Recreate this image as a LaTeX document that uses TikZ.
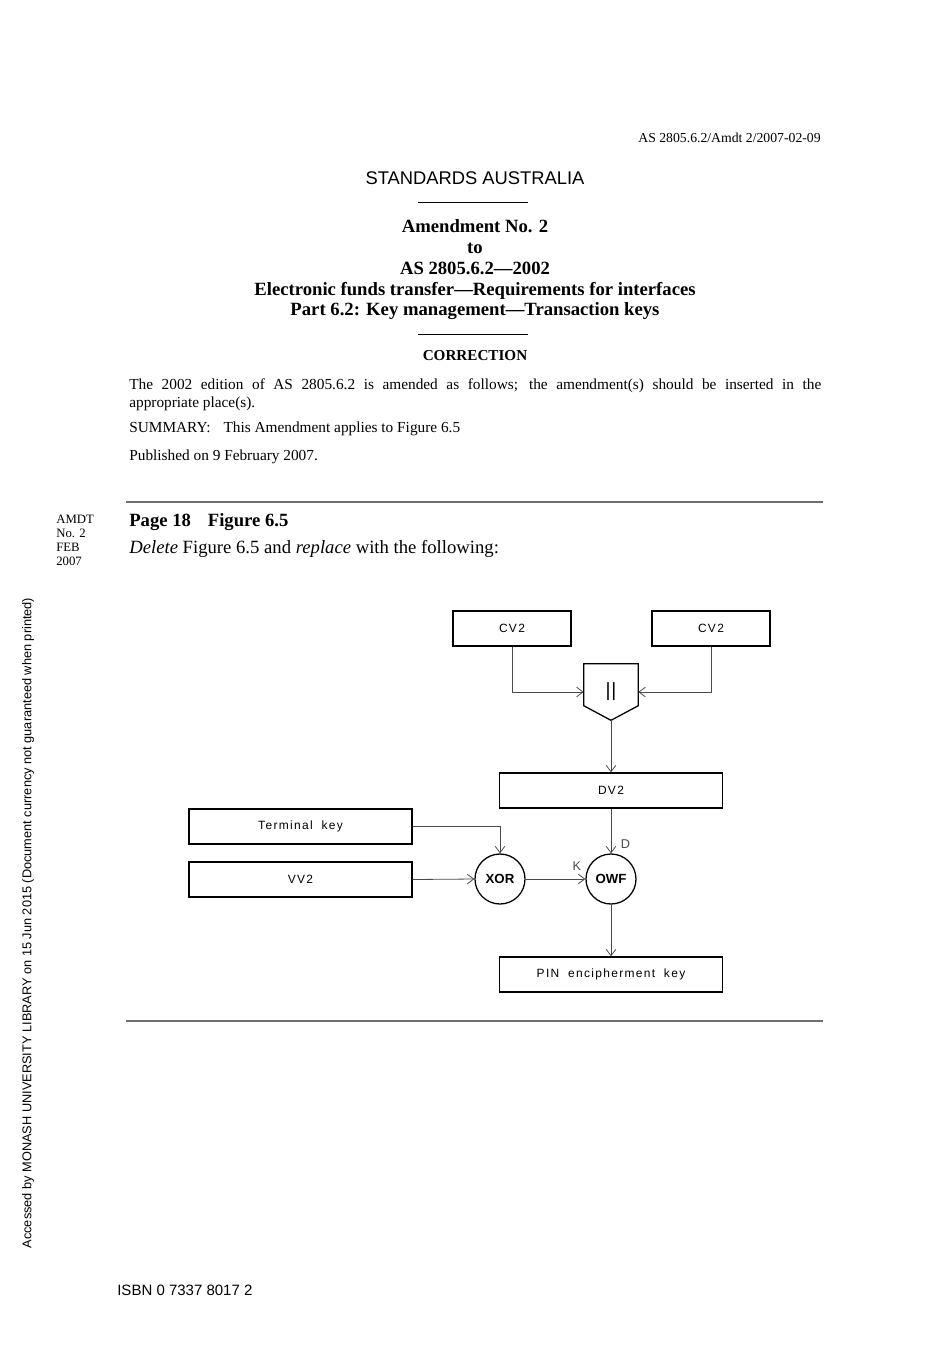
\documentclass[tikz,border=0pt]{standalone}
\usepackage{fontspec}
\setmainfont{Liberation Serif}
\setsansfont{Liberation Sans}
\newfontfamily\diagfont[LetterSpace=11, WordSpace=1.9]{Liberation Sans}
\usetikzlibrary{positioning, arrows.meta, calc}
\definecolor{ruleGrey}{HTML}{6E6E6E}
\definecolor{lineGrey}{HTML}{4A4A4A}
\def\pxu{0.6264pt}

\begin{document}
\begin{tikzpicture}[
  x=0.6264pt, y=-0.6264pt,
  keybox/.style={draw=black, line width=0.8pt, minimum height=35*\pxu,
                 inner sep=0pt, font=\diagfont\fontsize{7.5}{9}\selectfont},
  narrowbox/.style={keybox, minimum width=118*\pxu},
  widebox/.style={keybox, minimum width=223*\pxu},
  opnode/.style={draw=black, line width=0.8pt, circle, minimum size=50*\pxu,
                 inner sep=0pt, font=\sffamily\bfseries\fontsize{8.3}{10}\selectfont},
  conn/.style={draw=lineGrey, line width=0.5pt,
               -{Straight Barb[length=4pt, width=6pt, line width=0.5pt]}},
  lbl/.style={font=\sffamily\fontsize{8}{10}\selectfont, text=lineGrey, inner sep=0pt},
  title/.style={font=\bfseries\fontsize{11.7}{13}\selectfont, inner sep=0pt}
]
\useasboundingbox (0,0) rectangle (950,1345);

\node[anchor=base east, font=\fontsize{8.6}{10}\selectfont, inner sep=0pt] (code) at (821,142) {AS 2805.6.2/Amdt 2/2007-02-09};
\node[anchor=base, font=\sffamily\fontsize{11.5}{13}\selectfont, inner sep=0pt] (org) at (475,184) {STANDARDS AUSTRALIA};
\draw[line width=0.6pt] (418,202) -- (528,202);
\node[title, anchor=base] (amd) at (475,232) {Amendment No. 2};
\node[title, anchor=base] (to) at (475,253) {to};
\node[title, anchor=base] (std) at (475,274) {AS 2805.6.2---2002};
\node[title, anchor=base] (ttl) at (475,295) {Electronic funds transfer---Requirements for interfaces};
\node[title, anchor=base] (part) at (475,315) {Part 6.2: Key management---Transaction keys};
\draw[line width=0.6pt] (418,334) -- (528,334);
\node[anchor=base, font=\bfseries\fontsize{9.5}{11}\selectfont, inner sep=0pt] (corr) at (475,360) {CORRECTION};
\node[anchor=north west, inner sep=0pt, text width=692*\pxu, align=justify,
      font=\fontsize{9.6}{11.3}\selectfont] (intro) at (129,378)
  {The 2002 edition of AS 2805.6.2 is amended as follows; the amendment(s) should be inserted in the\linebreak appropriate place(s).};
\node[anchor=base west, font=\fontsize{9.6}{11}\selectfont, inner sep=0pt] (summ) at (129,432)
  {SUMMARY:\hspace{0.85em}This Amendment applies to Figure 6.5};
\node[anchor=base west, font=\fontsize{9.6}{11}\selectfont, inner sep=0pt] (pub) at (129,460)
  {Published on 9 February 2007.};
\draw[ruleGrey, line width=1.8pt] (126,502) -- (823,502);
\node[anchor=north west, align=left, inner sep=0pt,
      font=\fontsize{8}{8.8}\selectfont] (amdt) at (56,515) {AMDT\\No. 2\\FEB\\2007};
\node[anchor=base west, font=\bfseries\fontsize{11.7}{13}\selectfont, inner sep=0pt] (pg) at (129,526)
  {Page 18\hspace{0.9em}Figure 6.5};
\node[anchor=base west, font=\fontsize{11.7}{13}\selectfont, inner sep=0pt] (del) at (129,553)
  {\textit{Delete} Figure 6.5 and \textit{replace} with the following:};

\node[narrowbox] (cvl) at (512,628.5) {CV2};
\node[narrowbox] (cvr) at (711,628.5) {CV2};
\node[minimum width=54*\pxu, minimum height=56*\pxu, inner sep=0pt,
      font=\sffamily\fontsize{12}{14}\selectfont] (cat) at (611,692) {|\kern0.5pt|};
\draw[line width=0.8pt] (cat.north west) -- (cat.north east)
  -- ($(cat.north east)+(0,42)$) -- (cat.south) -- ($(cat.north west)+(0,42)$) -- cycle;
\node[widebox] (dv) at (611,790.5) {DV2};
\node[widebox] (term) at (300.5,826.5) {Terminal key};
\node[widebox] (vv) at (300.5,879.5) {VV2};
\node[opnode] (xor) at (500,879) {XOR};
\node[opnode] (owf) at (611,879) {OWF};
\node[widebox] (pin) at (611,974.5) {PIN encipherment key};

\draw[conn] (cvl.south) |- (cat.west);
\draw[conn] (cvr.south) |- (cat.east);
\draw[conn] (cat.south) -- (dv.north);
\draw[conn] (term.east) -| (xor.north);
\draw[conn] (vv.east) -- (xor.west);
\draw[conn] (xor.east) -- (owf.west) node[lbl, pos=0.86, above=5pt] (k) {K};
\draw[conn] (dv.south) -- (owf.north) node[lbl, pos=0.8, right=6pt] (d) {D};
\draw[conn] (owf.south) -- (pin.north);

\draw[ruleGrey, line width=1.2pt] (126,1021) -- (823,1021);
\node[rotate=90, font=\sffamily\fontsize{8}{10}\selectfont, inner sep=0pt] (acc) at (28,923)
  {Accessed by MONASH UNIVERSITY LIBRARY on 15 Jun 2015 (Document currency not guaranteed when printed)};
\node[anchor=base west, font=\sffamily\fontsize{9.4}{11}\selectfont, inner sep=0pt] (isbn) at (117,1295)
  {ISBN 0 7337 8017 2};
\end{tikzpicture}
\end{document}
